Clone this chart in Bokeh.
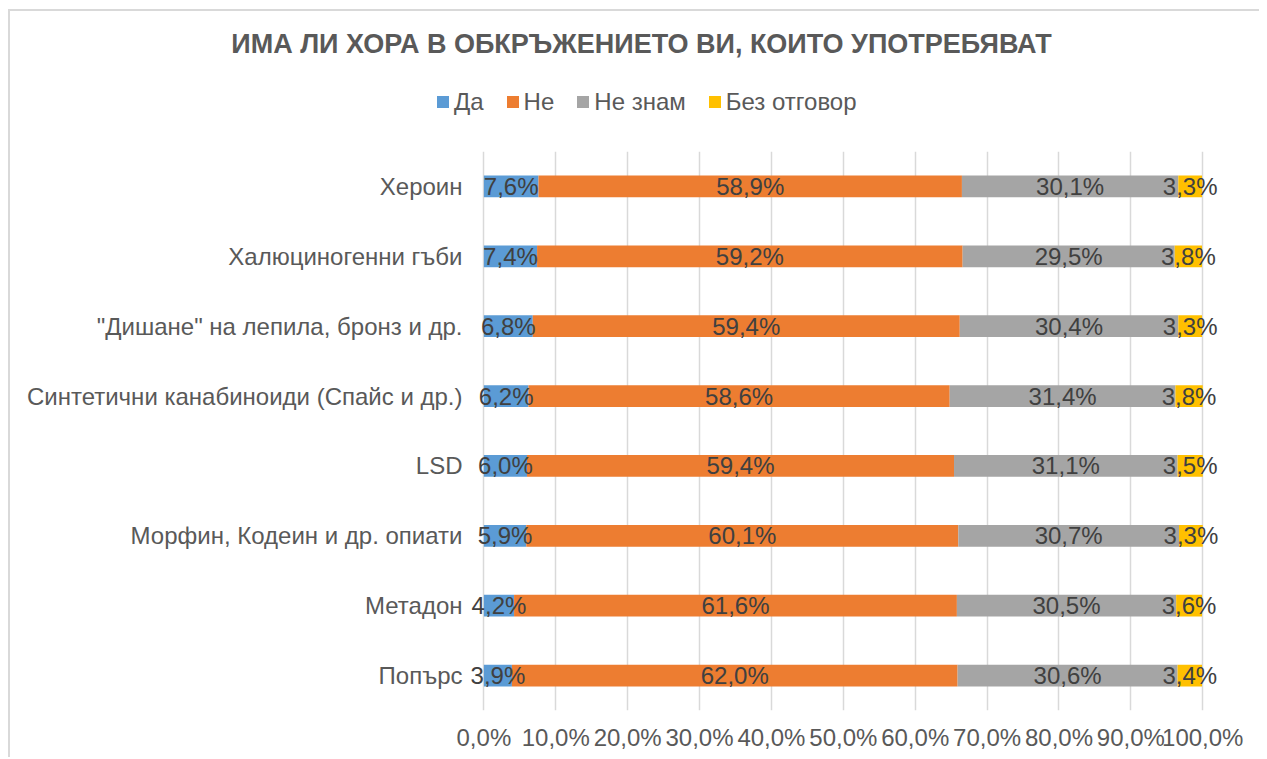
import numpy as np
from bokeh.plotting import figure
from bokeh.layouts import column
from bokeh.models import (FactorRange, Range1d, FixedTicker, LabelSet,
                          ColumnDataSource, Div)
from bokeh.core.properties import value
from bokeh.embed import file_html
from bokeh.resources import INLINE

categories = ["Хероин", "Халюциногенни гъби", "\"Дишане\" на лепила, бронз и др.",
              "Синтетични канабиноиди (Спайс и др.)", "LSD", "Морфин, Кодеин и др. опиати",
              "Метадон", "Попърс"]
da = [7.6, 7.4, 6.8, 6.2, 6.0, 5.9, 4.2, 3.9]
ne = [58.9, 59.2, 59.4, 58.6, 59.4, 60.1, 61.6, 62.0]
ne_znam = [30.1, 29.5, 30.4, 31.4, 31.1, 30.7, 30.5, 30.6]
bez = [3.3, 3.8, 3.3, 3.8, 3.5, 3.3, 3.6, 3.4]
series_names = ["Да", "Не", "Не знам", "Без отговор"]
colors = ["#5B9BD5", "#ED7D31", "#A5A5A5", "#FFC000"]
x_ticks = [0, 10, 20, 30, 40, 50, 60, 70, 80, 90, 100]
x_tick_labels = ["0,0%", "10,0%", "20,0%", "30,0%", "40,0%", "50,0%", "60,0%",
                 "70,0%", "80,0%", "90,0%", "100,0%"]
title_text = "ИМА ЛИ ХОРА В ОБКРЪЖЕНИЕТО ВИ, КОИТО УПОТРЕБЯВАТ"

FONT = "Liberation Sans"
FS = "24px"
W = 1249
H1 = 130
H2 = 616

# ---- header: title + legend (HTML) ----
legend_html = "".join(
    f'<span style="display:inline-flex;align-items:center;margin-right:23px;">'
    f'<span style="display:inline-block;width:12px;height:12px;background:{c};margin-right:5px;"></span>'
    f'<span>{n}</span></span>'
    for n, c in zip(series_names, colors))
header_html = (
    f'<div style="position:relative;width:{W}px;height:{H1}px;font-family:\'{FONT}\';color:#595959;">'
    f'<div style="position:absolute;left:7px;top:17px;width:{W}px;text-align:center;'
    f'font-size:27px;line-height:32px;font-weight:bold;white-space:nowrap;">{title_text}</div>'
    f'<div style="position:absolute;left:427px;top:77px;font-size:24px;line-height:28px;'
    f'white-space:nowrap;display:flex;align-items:center;">{legend_html}</div>'
    f'</div>')
hdr = Div(text=header_html, width=W, height=H1, margin=0)

# ---- main chart ----
p = figure(width=W, height=H2, output_backend="svg", toolbar_location=None,
           y_range=FactorRange(*list(reversed(categories)), range_padding=0),
           x_range=Range1d(-2, 104),
           min_border_left=459, min_border_right=28, min_border_top=10, min_border_bottom=47)
p.outline_line_color = None
p.background_fill_color = "white"
p.border_fill_color = "white"

left = np.zeros(len(categories))
for name, vals, col in zip(series_names, [da, ne, ne_znam, bez], colors):
    vals = np.array(vals)
    right = left + vals
    src = ColumnDataSource(dict(y=categories, left=left, right=right,
                                mid=(left + right) / 2,
                                lab=[f"{v:.1f}%".replace(".", ",") for v in vals]))
    p.hbar(y="y", left="left", right="right", height=0.31, source=src,
           fill_color=col, line_color=None)
    p.add_layout(LabelSet(x="mid", y="y", text="lab", source=src, text_align="center",
                          text_baseline="middle", text_font=value(FONT),
                          text_font_size=value(FS), text_color=value("#404040")))
    left = right

p.xaxis.ticker = FixedTicker(ticks=x_ticks)
p.xaxis.major_label_overrides = {t: l for t, l in zip(x_ticks, x_tick_labels)}
for ax in (p.xaxis, p.yaxis):
    ax.axis_line_color = None
    ax.major_tick_line_color = None
    ax.minor_tick_line_color = None
    ax.major_tick_out = 0
    ax.major_tick_in = 0
    ax.minor_tick_out = 0
    ax.major_label_text_font = FONT
    ax.major_label_text_font_size = FS
    ax.major_label_text_color = "#595959"
p.xaxis.major_label_standoff = 13
p.yaxis.major_label_standoff = 7
p.ygrid.grid_line_color = None
p.xgrid.grid_line_color = "#d9d9d9"
p.xgrid.grid_line_width = 1.5

layout = column(hdr, p, spacing=0,
                styles={"border-left": "2px solid #d9d9d9", "border-top": "2px solid #d9d9d9",
                        "margin-left": "8px", "margin-top": "9px"})

open("out.html", "w").write(file_html(layout, INLINE))
